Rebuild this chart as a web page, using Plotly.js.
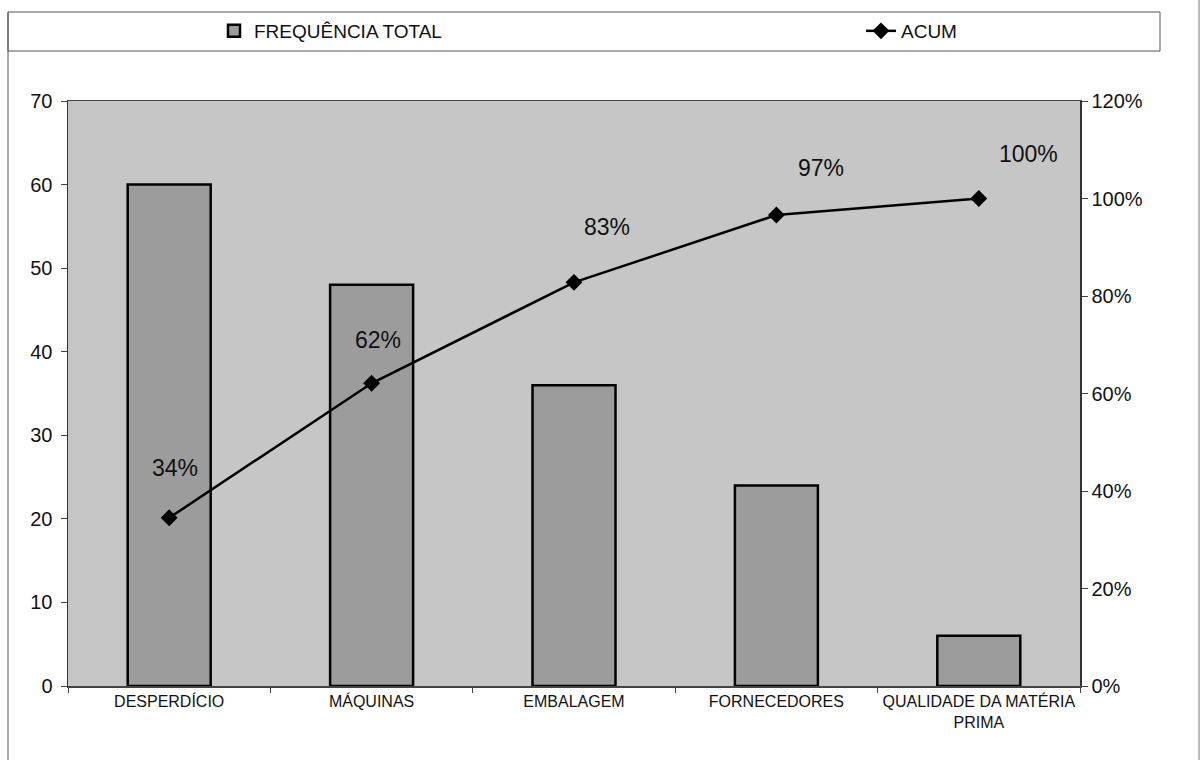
<!DOCTYPE html>
<html>
<head>
<meta charset="utf-8">
<script src="https://cdn.plot.ly/plotly-3.0.1.min.js"></script>
<style>html,body{margin:0;padding:0;background:#fff;}#chart{width:1201px;height:760px;}</style>
</head>
<body>
<div id="chart"></div>
<script>
// ---- data ----
const categories = ['DESPERDÍCIO', 'MÁQUINAS', 'EMBALAGEM', 'FORNECEDORES', 'QUALIDADE DA MATÉRIA<br>PRIMA'];
const frequencia = [60, 48, 36, 24, 6];
const acumulado = [0.345, 0.621, 0.828, 0.966, 1.0];
const acumLabels = ['34%', '62%', '83%', '97%', '100%'];
const leftTicks = [0, 10, 20, 30, 40, 50, 60, 70];
const rightTicks = [0, 0.2, 0.4, 0.6, 0.8, 1.0, 1.2];
const rightTickText = ['0%', '20%', '40%', '60%', '80%', '100%', '120%'];

// label offsets (style only)
const labelShiftX = [6, 6, 33, 45, 50];
const labelShiftY = [50, 43, 55, 47, 45];

const FONT = 'Liberation Sans, Arial, sans-serif';

const traces = [
  {
    type: 'bar', name: 'FREQUÊNCIA TOTAL', x: categories, y: frequencia,
    marker: {color: '#9c9c9c', line: {color: '#000', width: 2.5}},
    width: 0.41, yaxis: 'y', hoverinfo: 'skip', legend: 'legend'
  },
  {
    type: 'scatter', mode: 'lines+markers', name: 'ACUM', x: categories, y: acumulado,
    yaxis: 'y2', line: {color: '#000', width: 2.5},
    marker: {symbol: 'diamond', size: 13, color: '#000'}, hoverinfo: 'skip', legend: 'legend2'
  }
];

const annotations = acumLabels.map((t, i) => ({
  x: categories[i], y: acumulado[i], xref: 'x', yref: 'y2', text: t,
  showarrow: false, xshift: labelShiftX[i], yshift: labelShiftY[i],
  font: {family: FONT, size: 23, color: '#111'}
}));

const legendBase = {
  orientation: 'h', xref: 'container', yref: 'container',
  y: 1 - 31 / 760, xanchor: 'left', yanchor: 'middle',
  font: {family: FONT, size: 19, color: '#111'},
  bgcolor: 'rgba(0,0,0,0)', borderwidth: 0
};

const layout = {
  width: 1201, height: 760,
  margin: {l: 68, r: 121, t: 101, b: 74},
  paper_bgcolor: '#ffffff',
  plot_bgcolor: '#c6c6c6',
  font: {family: FONT, color: '#111'},
  showlegend: true,
  legend: Object.assign({}, legendBase, {x: 214 / 1201}),
  legend2: Object.assign({}, legendBase, {x: 861 / 1201}),
  xaxis: {
    type: 'category', tickson: 'boundaries', ticks: 'outside', ticklen: 5,
    tickcolor: '#444', showline: true, linecolor: '#444', linewidth: 1.5, mirror: true,
    tickfont: {family: FONT, size: 16, color: '#111'}, showgrid: false, zeroline: false,
    automargin: false
  },
  yaxis: {
    range: [0, 70], tickvals: leftTicks, ticks: 'outside', ticklen: 6, tickcolor: '#444',
    showline: true, linecolor: '#333', linewidth: 1.5, showgrid: false, zeroline: false,
    tickfont: {family: FONT, size: 20, color: '#111'}, ticklabelstandoff: 4, automargin: false
  },
  yaxis2: {
    overlaying: 'y', side: 'right', range: [0, 1.2], tickvals: rightTicks, ticktext: rightTickText,
    ticks: 'outside', ticklen: 6, tickcolor: '#444', showline: true, linecolor: '#333', linewidth: 1.5,
    showgrid: false, zeroline: false, tickfont: {family: FONT, size: 20, color: '#111'},
    automargin: false
  },
  annotations: annotations,
  shapes: [
    {type: 'rect', xref: 'paper', yref: 'paper', x0: (8 - 68) / 1012, x1: (1160 - 68) / 1012,
     y0: (686 - 51) / 585, y1: (686 - 12) / 585, line: {color: '#555', width: 1}, layer: 'below'},
    {type: 'line', xref: 'paper', yref: 'paper', x0: (8 - 68) / 1012, x1: (8 - 68) / 1012,
     y0: (686 - 760) / 585, y1: (686 - 12) / 585, line: {color: '#555', width: 1}},
    {type: 'line', xref: 'paper', yref: 'paper', x0: (1199 - 68) / 1012, x1: (1199 - 68) / 1012,
     y0: (686 - 760) / 585, y1: (686 - 0) / 585, line: {color: '#777', width: 1}}
  ]
};

Plotly.newPlot('chart', traces, layout, {displayModeBar: false, staticPlot: true});
</script>
</body>
</html>
